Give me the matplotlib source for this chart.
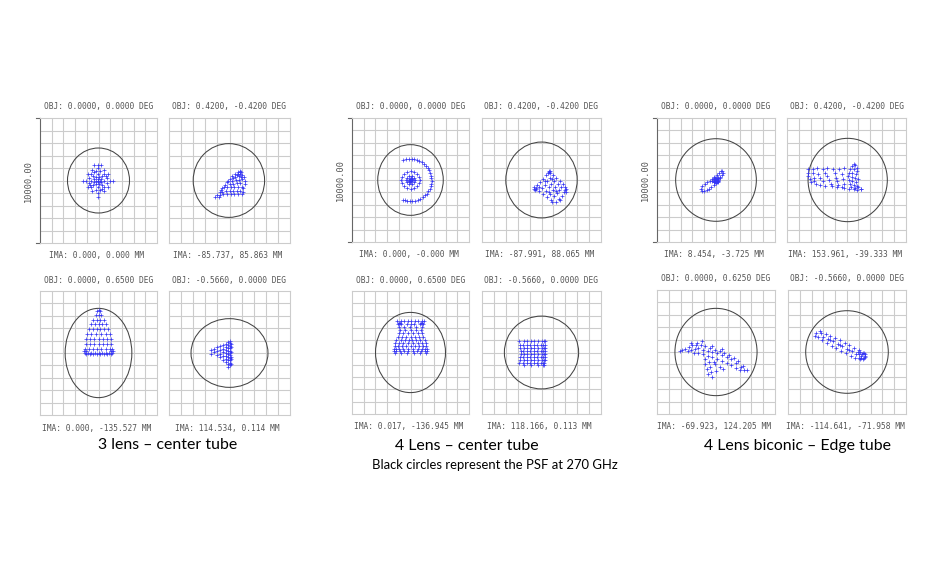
import numpy as np
import matplotlib
matplotlib.use("Agg")
from matplotlib import pyplot as plt
from matplotlib.patches import Ellipse

W, H = 942, 572

# group captions
group_names = ["3 lens \u2013 center tube", "4 Lens \u2013 center tube", "4 Lens biconic \u2013 Edge tube"]
note = "Black circles represent the PSF at 270 GHz"

# field labels, order per group: top-left, top-right, bottom-left, bottom-right
obj_labels = [
    ["OBJ: 0.0000, 0.0000 DEG", "OBJ: 0.4200, -0.4200 DEG", "OBJ: 0.0000, 0.6500 DEG", "OBJ: -0.5660, 0.0000 DEG"],
    ["OBJ: 0.0000, 0.0000 DEG", "OBJ: 0.4200, -0.4200 DEG", "OBJ: 0.0000, 0.6500 DEG", "OBJ: -0.5660, 0.0000 DEG"],
    ["OBJ: 0.0000, 0.0000 DEG", "OBJ: 0.4200, -0.4200 DEG", "OBJ: 0.0000, 0.6250 DEG", "OBJ: -0.5660, 0.0000 DEG"],
]
ima_labels = [
    ["IMA: 0.000, 0.000 MM", "IMA: -85.737, 85.863 MM", "IMA: 0.000, -135.527 MM", "IMA: 114.534, 0.114 MM"],
    ["IMA: 0.000, -0.000 MM", "IMA: -87.991, 88.065 MM", "IMA: 0.017, -136.945 MM", "IMA: 118.166, 0.113 MM"],
    ["IMA: 8.454, -3.725 MM", "IMA: 153.961, -39.333 MM", "IMA: -69.923, 124.205 MM", "IMA: -114.641, -71.958 MM"],
]
scale_label = "10000.00"

# PSF circles (cx, cy, rx, ry) in grid units
psf = [
    [(0, 0, 2.65, 2.6), (-0.05, 0, 2.95, 2.95), (0, 0, 2.85, 3.6), (0, 0, 3.18, 2.77)],
    [(0, 0, 2.8, 2.85), (0, 0, 3.0, 3.06), (0, 0, 2.99, 3.26), (0, 0, 3.12, 2.96)],
    [(0, 0, 3.42, 3.33), (0.1, 0, 3.33, 3.36), (0, 0, 3.48, 3.52), (0, 0, 3.5, 3.33)],
]

# spot points (x, y), grid units
spot_3l_a = [(-0.35, 1.25), (-0.05, 1.25), (0.25, 1.25), (-1.35, 0), (1.25, 0), (-0.05, -1.3),
             (0.95, 0), (0.82, 0.5), (0.45, 0.87), (-0.05, 1), (-0.55, 0.87), (-0.92, 0.5), (-1.05, 0),
             (-0.92, -0.5), (-0.55, -0.87), (-0.05, -1), (0.45, -0.87), (0.82, -0.5),
             (0.7, 0.2), (0.5, 0.55), (0.15, 0.75), (-0.25, 0.75), (-0.6, 0.55), (-0.8, 0.2),
             (-0.8, -0.2), (-0.6, -0.55), (-0.25, -0.75), (0.15, -0.75), (0.5, -0.55), (0.7, -0.2),
             (0.5, 0), (0.34, 0.39), (-0.05, 0.55), (-0.44, 0.39), (-0.6, 0), (-0.44, -0.39),
             (-0.05, -0.55), (0.34, -0.39), (0.25, 0.13), (0.08, 0.3), (-0.18, 0.3), (-0.35, 0.13),
             (-0.35, -0.13), (-0.18, -0.3), (0.08, -0.3), (0.25, -0.13), (0.1, 0), (-0.05, 0.15),
             (-0.2, 0), (-0.05, -0.15), (-0.05, 0), (0.6, 0.35), (-0.7, -0.35), (0.3, -0.7), (-0.4, 0.7)]
spot_3l_b = [(-1.0, -1.15), (-0.8, -0.9), (-0.6, -0.6), (-0.4, -0.35), (-0.2, -0.1), (0, 0.15), (0.2, 0.35),
             (0.45, 0.55), (0.7, 0.7), (0.9, 0.8), (0.95, 0.65), (1.05, 0.45), (1.2, 0.25), (1.3, 0.0),
             (1.25, -0.3), (1.15, -0.6), (1.1, -0.9), (1.05, -1.1), (-0.8, -1.15), (-0.5, -1.1),
             (-0.2, -1.1), (0.1, -1.05), (0.4, -1.05), (0.7, -1.1), (-0.6, -0.95), (-0.3, -0.8),
             (0, -0.85), (0.3, -0.8), (0.6, -0.85), (0.9, -0.8), (-0.2, -0.55), (0.1, -0.55),
             (0.4, -0.55), (0.7, -0.5), (1.0, -0.5), (0, -0.3), (0.3, -0.25), (0.6, -0.2), (0.9, -0.2),
             (0.2, 0), (0.5, 0.05), (0.8, 0.05), (1.05, 0.1), (0.45, 0.3), (0.75, 0.35), (0.95, 0.3),
             (0.7, 0.55), (0.85, 0.5), (-1.2, -1.3), (-0.9, -1.3), (-0.7, -0.75), (-0.45, -0.5),
             (-0.1, 0.0), (0.3, 0.2), (0.6, 0.45), (0.85, 0.7)]
rows_3l_c = [
    (3.5, [0]), (3.35, [-0.1, 0.1]), (3.1, [-0.25, 0, 0.25]), (2.7, [-0.45, -0.15, 0.15, 0.45]),
    (2.3, [-0.65, -0.3, 0, 0.3, 0.65]), (1.9, [-0.85, -0.5, -0.15, 0.15, 0.5, 0.85]),
    (1.5, [-0.95, -0.6, -0.25, 0.25, 0.6, 0.95]), (1.1, [-1.05, -0.7, -0.35, 0, 0.35, 0.7, 1.05]),
    (0.7, [-1.1, -0.75, -0.4, 0, 0.4, 0.75, 1.1]),
    (0.35, [-1.15, -0.8, -0.45, -0.1, 0.25, 0.6, 0.95, 1.15]),
    (0.15, [-1.2, -1.1, 1.1, 1.2]),
    (0.0, [-1.15, -0.9, -0.6, -0.3, 0, 0.3, 0.6, 0.9, 1.15]),
    (-0.1, [-1.05, -0.75, -0.45, -0.15, 0.15, 0.45, 0.75, 1.05]),
]
cols_3l_d = [
    (0.05, [1.0, 0.8, 0.6, 0.4, 0.2, 0, -0.2, -0.4, -0.6, -0.8, -1.0]),
    (0.15, [0.7, 0.5, 0.1, -0.3, -0.5, -0.9]),
    (-0.1, [0.9, 0.65, 0.4, 0.15, -0.1, -0.35, -0.6, -0.85, -1.1]),
    (-0.3, [0.75, 0.5, 0.25, 0, -0.25, -0.5, -0.75]),
    (-0.5, [0.65, 0.35, 0.05, -0.25, -0.55]),
    (-0.75, [0.55, 0.25, -0.05, -0.35]),
    (-1.0, [0.45, 0.15, -0.15]),
    (-1.25, [0.35, 0.05]),
    (-1.5, [0.25, -0.05]),
]
spot_4l_a = [(-0.62, 1.6), (-0.37, 1.66), (-0.16, 1.69), (0.09, 1.7), (0.31, 1.67), (0.56, 1.62), (0.76, 1.54),
             (0.98, 1.43), (1.16, 1.3), (1.34, 1.14), (1.47, 0.98), (1.6, 0.77), (1.69, 0.58), (1.76, 0.35),
             (1.79, 0.15), (1.8, -0.06), (1.77, -0.3), (1.72, -0.5), (1.63, -0.72), (1.53, -0.9),
             (1.38, -1.09), (1.23, -1.24), (1.03, -1.39), (0.85, -1.5), (0.62, -1.6), (0.4, -1.66),
             (0.16, -1.69), (-0.06, -1.7), (-0.31, -1.67), (-0.5, -1.63), (-0.67, -1.58),
             (0.78, 0), (0.72, 0.28), (0.55, 0.51), (0.3, 0.67), (0, 0.72), (-0.3, 0.67), (-0.55, 0.51),
             (-0.72, 0.28), (-0.78, 0), (-0.72, -0.28), (-0.55, -0.51), (-0.3, -0.67), (0, -0.72),
             (0.3, -0.67), (0.55, -0.51), (0.72, -0.28),
             (0.35, 0), (0.28, 0.2), (0.11, 0.33), (-0.11, 0.33), (-0.28, 0.2), (-0.35, 0), (-0.28, -0.2),
             (-0.11, -0.33), (0.11, -0.33), (0.28, -0.2),
             (0, 0), (0.1, 0), (-0.1, 0), (0, 0.1), (0, -0.1), (0.07, 0.07), (-0.07, 0.07), (0.07, -0.07),
             (-0.07, -0.07), (0.15, 0.05), (-0.15, -0.05), (0.05, 0.15), (-0.05, -0.15)]
spot_4l_b = [(-0.6, -0.7), (-0.24, -0.92), (0.12, -1.14), (0.48, -1.36), (0.84, -1.58), (1.2, -1.8),
             (-0.35, -0.43), (0.01, -0.65), (0.37, -0.87), (0.73, -1.09), (1.09, -1.31), (1.45, -1.5),
             (-0.1, -0.16), (0.26, -0.38), (0.62, -0.6), (0.98, -0.82), (1.34, -1.04), (1.75, -1.25),
             (0.15, 0.11), (0.48, -0.12), (0.8, -0.35), (1.12, -0.57), (1.45, -0.8), (1.9, -1.0),
             (0.4, 0.38), (0.72, 0.14), (1.04, -0.1), (1.36, -0.32), (1.66, -0.56), (1.95, -0.78),
             (0.65, 0.65), (0.95, 0.4), (1.25, 0.15), (1.55, -0.1), (1.8, -0.35), (2.0, -0.55),
             (0.6, 0.7), (0.7, 0.6), (0.55, 0.55), (0.72, 0.72), (-0.5, -0.65), (-0.55, -0.8),
             (-0.65, -0.6), (-0.45, -0.75), (2.05, -0.75), (2.05, -0.95), (1.55, -1.65), (0.9, -1.75),
             (-0.2, -0.6), (0.3, -0.1), (0.9, 0.05), (1.2, -0.9), (0.6, -1.0)]
rows_4l_c = [
    (2.55, [-1.15, -0.85, -0.55, -0.25, 0.05, 0.35, 0.65, 0.95, 1.15]),
    (2.4, [-1.0, -0.9, 0.9, 1.0]),
    (2.3, [-1.05, -0.8, -0.3, 0, 0.3, 0.8, 1.05]),
    (2.05, [-0.95, -0.55, -0.05, 0.5, 0.95]),
    (1.8, [-0.9, -0.45, 0, 0.45, 0.9]),
    (1.55, [-1.0, -0.6, -0.2, 0.2, 0.6, 1.0]),
    (1.3, [-1.1, -0.75, -0.35, 0, 0.35, 0.75, 1.1]),
    (1.05, [-1.2, -0.85, -0.5, -0.15, 0.15, 0.5, 0.85, 1.2]),
    (0.8, [-1.3, -0.95, -0.6, -0.25, 0.25, 0.6, 0.95, 1.3]),
    (0.55, [-1.35, -1.05, -0.7, -0.35, 0, 0.35, 0.7, 1.05, 1.35]),
    (0.3, [-1.45, -1.25, -1.0, -0.6, -0.2, 0.2, 0.6, 1.0, 1.25, 1.45]),
    (0.1, [-1.4, -1.2, -0.9, -0.55, -0.2, 0.2, 0.55, 0.9, 1.2, 1.4]),
    (-0.05, [-1.3, -0.8, -0.3, 0.3, 0.8, 1.3]),
]
rows_4l_d = [
    (0.9, [-1.85, -1.5, -1.2, -0.9, -0.6, -0.3, 0, 0.2, 0.3]),
    (0.65, [-1.8, -1.55, -1.25, -0.95, -0.65, -0.35, -0.05, 0.15, 0.28]),
    (0.4, [-1.8, -1.5, -1.2, -0.9, -0.6, -0.3, 0, 0.18, 0.28]),
    (0.15, [-1.75, -1.55, -1.25, -0.95, -0.65, -0.35, -0.05, 0.15, 0.27]),
    (-0.1, [-1.75, -1.5, -1.2, -0.9, -0.6, -0.3, 0, 0.18, 0.27]),
    (-0.35, [-1.8, -1.55, -1.25, -0.95, -0.65, -0.35, -0.05, 0.15, 0.26]),
    (-0.6, [-1.8, -1.5, -1.2, -0.9, -0.6, -0.3, 0, 0.18, 0.26]),
    (-0.85, [-1.85, -1.55, -1.25, -0.95, -0.65, -0.35, -0.05, 0.15, 0.25]),
    (-1.0, [-1.5, -0.9, -0.3, 0.1, 0.25]),
]
spot_bc_a = [(-1.3, -0.72), (-1.15, -0.5), (-0.95, -0.35), (-0.75, -0.2), (-0.55, -0.05), (-0.35, 0.1),
             (-0.15, 0.25), (0.05, 0.4), (0.25, 0.55), (0.45, 0.7), (0.55, 0.72),
             (-1.2, -0.85), (-1.0, -0.88), (-0.8, -0.8), (-0.6, -0.7), (-0.4, -0.55), (-0.2, -0.4),
             (0, -0.25), (0.2, -0.05), (0.35, 0.15), (0.5, 0.4), (0.6, 0.6),
             (-0.2, -0.2), (-0.1, -0.2), (0, -0.2), (0.1, -0.2), (0.2, -0.2),
             (-0.2, -0.1), (-0.1, -0.1), (0, -0.1), (0.1, -0.1), (0.2, -0.1),
             (-0.2, 0), (-0.1, 0), (0, 0), (0.1, 0), (0.2, 0),
             (-0.2, 0.1), (-0.1, 0.1), (0, 0.1), (0.1, 0.1), (0.2, 0.1),
             (-0.2, 0.2), (-0.1, 0.2), (0, 0.2), (0.1, 0.2), (0.2, 0.2),
             (-0.05, 0.05), (0.05, -0.05), (0.15, 0.15), (-0.15, -0.15), (0.3, 0.25), (-0.3, -0.1)]
spot_bc_b = [(-3.2, 0.9), (-3.25, 0.6), (-3.2, 0.3), (-3.1, 0.05), (-3.0, -0.15),
             (-2.85, 0.85), (-2.8, 0.55), (-2.75, 0.2), (-2.7, -0.1),
             (-2.5, 0.95), (-2.0, 0.9), (-1.6, 0.95), (-1.1, 0.9), (-0.6, 0.85), (-0.2, 0.95),
             (-2.4, 0.5), (-2.2, 0.2), (-2.0, -0.1), (-1.8, 0.6), (-1.6, 0.3), (-1.5, 0.0), (-1.3, -0.3),
             (-1.0, 0.6), (-0.9, 0.2), (-0.8, -0.1), (-0.7, -0.4), (-0.4, 0.5), (-0.3, 0.1), (-0.2, -0.3),
             (-0.4, -0.55), (-2.6, -0.3), (-2.2, -0.4), (-1.8, -0.45), (-1.2, -0.5), (-0.8, -0.55),
             (-0.2, -0.65), (0.2, -0.7), (0.6, -0.75), (0.9, -0.8), (1.2, -0.75),
             (0.6, 1.3), (0.75, 1.2), (0.45, 1.1), (0.85, 1.0), (0.3, 0.9), (0.6, 0.85), (0.9, 0.7),
             (0.2, 0.6), (0.5, 0.55), (0.8, 0.45), (0.15, 0.3), (0.45, 0.25), (0.75, 0.15), (0.95, 0.05),
             (0.2, 0.0), (0.5, -0.1), (0.8, -0.2), (0.3, -0.35), (0.6, -0.4), (0.9, -0.45), (0.4, -0.6),
             (0.7, -0.65), (1.0, -0.6), (1.25, -0.7)]
spot_bc_c = [(-3.05, 0.1), (-2.85, 0.15), (-2.6, 0.25), (-2.3, 0.4), (-2.0, 0.55), (-1.7, 0.6), (-1.3, 0.6),
             (-0.9, 0.45), (-0.5, 0.35), (-0.1, 0.2), (0.3, 0.1), (0.7, -0.05), (1.1, -0.25), (1.5, -0.45),
             (1.9, -0.75), (2.3, -1.1), (2.6, -1.45),
             (-2.4, 0.1), (-2.1, 0.2), (-1.8, 0.25), (-1.5, 0.3), (-1.1, 0.2), (-0.7, 0.1), (-0.3, 0.0),
             (0.1, -0.1), (0.5, -0.25), (0.9, -0.4), (1.3, -0.6), (1.7, -0.9), (2.1, -1.2), (2.4, -1.45),
             (-1.9, -0.1), (-1.5, -0.05), (-1.1, -0.15), (-0.7, -0.3), (-0.3, -0.4), (0.1, -0.55),
             (0.5, -0.7), (0.9, -0.85), (1.3, -1.05), (1.7, -1.25), (2.0, -1.45),
             (-0.9, -0.6), (-0.6, -0.8), (-0.9, -1.0), (-0.5, -1.2), (-0.8, -1.4), (-0.4, -1.6),
             (-0.7, -1.8), (-0.35, -2.0), (-0.1, -1.0), (0.3, -1.2), (0.6, -1.4), (0.0, -1.5), (-0.2, -0.8),
             (-1.6, 0.75), (-2.1, 0.7), (-1.2, 0.85), (-0.3, 0.5), (0.5, 0.25)]
spot_bc_d = [(-2.6, 1.5), (-2.2, 1.55), (-1.8, 1.45), (-1.4, 1.3), (-1.0, 1.15), (-0.6, 0.95), (-0.2, 0.75),
             (0.2, 0.55), (0.6, 0.35), (1.0, 0.15), (1.35, -0.05), (1.55, -0.3),
             (-2.5, 1.2), (-2.1, 0.95), (-1.7, 0.75), (-1.3, 0.5), (-0.9, 0.3), (-0.5, 0.1), (-0.1, -0.1),
             (0.3, -0.3), (0.7, -0.5), (1.1, -0.6), (1.4, -0.5),
             (-2.0, 1.25), (-1.6, 1.05), (-1.2, 0.85), (-0.8, 0.65), (-0.4, 0.45), (0.0, 0.25), (0.4, 0.05),
             (0.8, -0.15), (1.2, -0.3), (-1.4, 0.95), (-0.6, 0.55), (0.2, 0.15), (1.0, -0.2),
             (1.3, -0.2), (1.45, -0.1), (1.5, -0.4), (1.2, -0.45), (1.35, -0.55), (1.0, -0.45), (1.55, -0.2),
             (0.9, 0.0), (1.1, 0.0), (-2.3, 1.7), (-2.7, 1.3)]


def rows_to_pts(rows):
    return [(x, y) for y, xs in rows for x in xs]


def cols_to_pts(cols):
    return [(x, y) for x, ys in cols for y in ys]


spots = [
    [spot_3l_a, spot_3l_b, rows_to_pts(rows_3l_c), cols_to_pts(cols_3l_d)],
    [spot_4l_a, spot_4l_b, rows_to_pts(rows_4l_c), rows_to_pts(rows_4l_d)],
    [spot_bc_a, spot_bc_b, spot_bc_c, spot_bc_d],
]

# panel boxes in pixels (left, top, right, bottom)
boxes = [
    [(40, 118, 157, 243), (169, 118, 290, 243), (40, 291, 157, 415), (169, 291, 290, 415)],
    [(352, 118, 469, 242), (482, 118, 601, 242), (352, 291, 469, 414), (482, 291, 601, 414)],
    [(657, 118, 775, 242), (787, 118, 906, 242), (657, 290, 775, 414), (788, 290, 906, 414)],
]
caption_pos = [(168, 445), (467, 446), (797, 446)]

mono = "DejaVu Sans Mono"
txt_col = "#555555"
grid_col = "#cccccc"

fig = plt.figure(figsize=(W / 100, H / 100), dpi=100)
fig.patch.set_facecolor("white")


def fx(x):
    return x / W


def fy(y):
    return 1 - y / H


for g in range(3):
    for k in range(4):
        l, t, r, b = boxes[g][k]
        ax = fig.add_axes([fx(l), fy(b), (r - l) / W, (b - t) / H])
        ax.set_xlim(-5, 5)
        ax.set_ylim(-5, 5)
        for v in range(-4, 5):
            ax.axvline(v, color=grid_col, lw=0.8, zorder=0)
            ax.axhline(v, color=grid_col, lw=0.8, zorder=0)
        ax.set_xticks([])
        ax.set_yticks([])
        for s in ax.spines.values():
            s.set_color(grid_col)
            s.set_linewidth(0.8)
        cx, cy, rx, ry = psf[g][k]
        ax.add_patch(Ellipse((cx, cy), 2 * rx, 2 * ry, fill=False, ec="#444444", lw=0.75, zorder=2))
        pts = np.array(spots[g][k])
        ax.plot(pts[:, 0], pts[:, 1], "+", color="#3535f5", ms=2.2, mew=0.5, zorder=3)
        if k == 0:
            ax.spines["left"].set_color("#666666")
            ax.plot([-5.3, -5], [5, 5], color="#666666", lw=0.8, clip_on=False)
            ax.plot([-5.3, -5], [-5, -5], color="#666666", lw=0.8, clip_on=False)
            ax.text(-6.0, 0, scale_label, rotation=90, ha="center", va="center",
                    fontsize=6.2, family=mono, color=txt_col)
        xc = (l + r) / 2
        fig.text(fx(xc), fy(t - 11), obj_labels[g][k], ha="center", va="center",
                 fontsize=5.7, family=mono, color=txt_col)
        fig.text(fx(xc - 2), fy(b + 13), ima_labels[g][k], ha="center", va="center",
                 fontsize=5.7, family=mono, color=txt_col)
    px, py = caption_pos[g]
    fig.text(fx(px), fy(py), group_names[g], ha="center", va="center", fontsize=11.4,
             family="Lato", color="black")

fig.text(fx(495), fy(465), note, ha="center", va="center", fontsize=9.4, family="Lato", color="black")

fig.savefig("out.png", dpi=100, facecolor="white")
